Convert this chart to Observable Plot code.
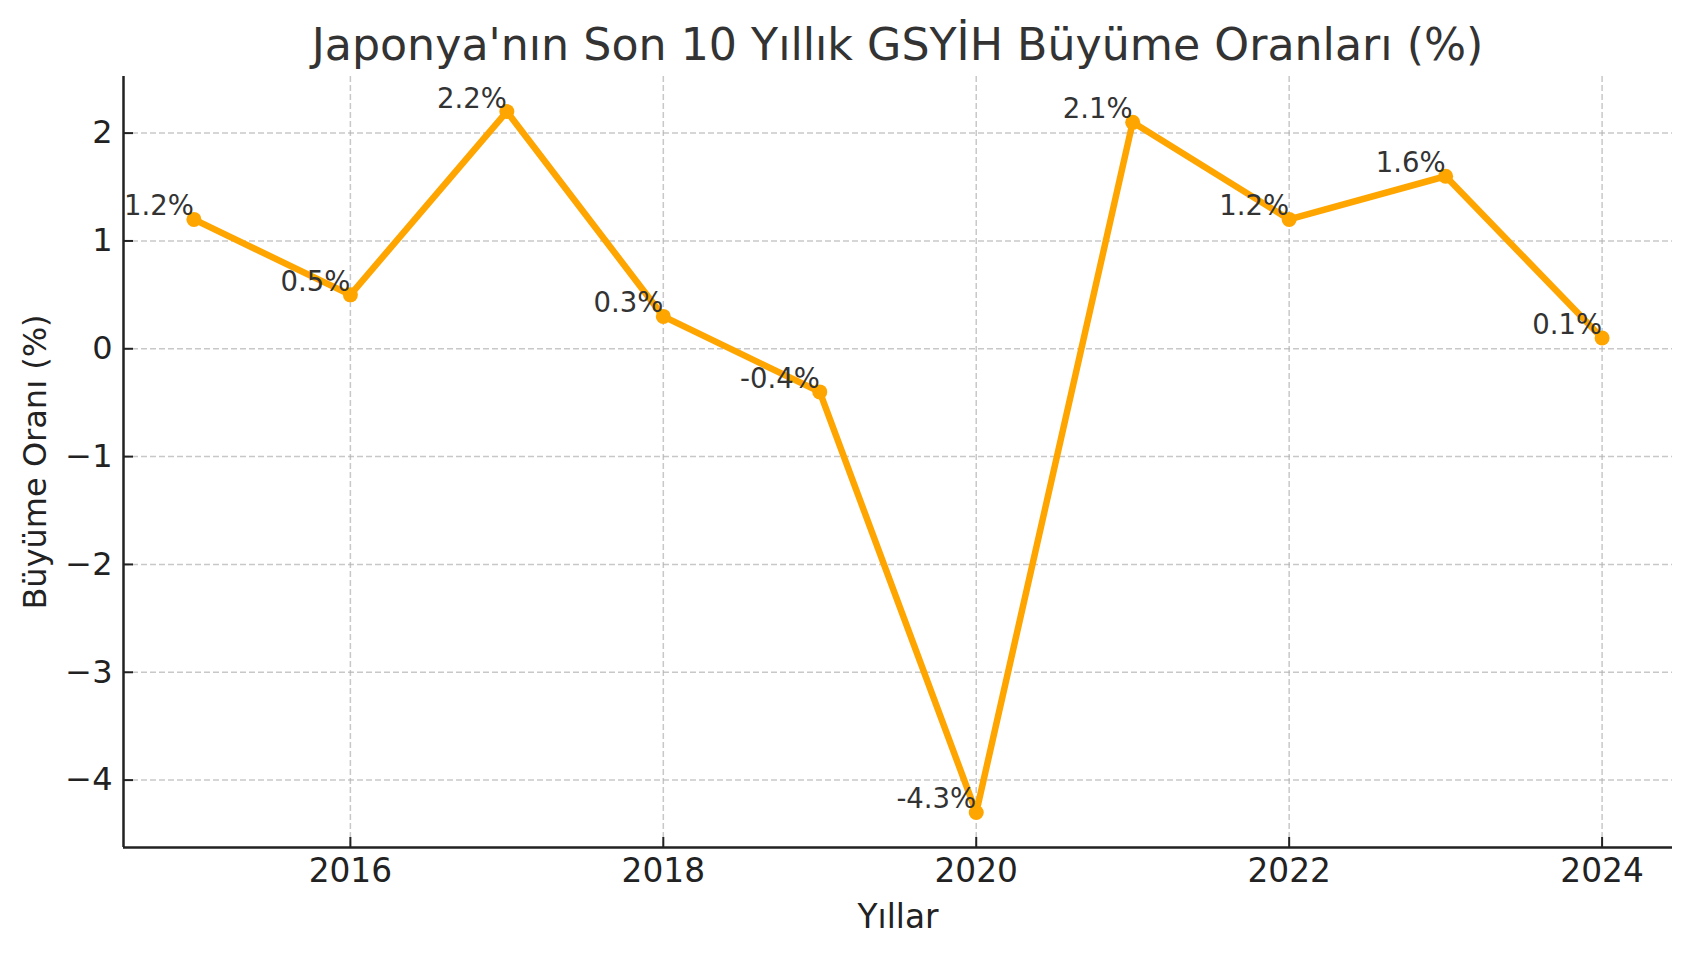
<!DOCTYPE html>
<html>
<head>
<meta charset="utf-8">
<script src="https://cdn.jsdelivr.net/npm/d3@7"></script>
<script src="https://cdn.jsdelivr.net/npm/@observablehq/plot@0.6"></script>
<style>
  html, body { margin: 0; padding: 0; background: #fff; }
  body { width: 1693px; height: 954px; overflow: hidden; font-family: "DejaVu Sans", sans-serif; }
  #title { height: 76px; box-sizing: border-box; padding: 20px 21px 0 123px; line-height: 50px; text-align: center; font-size: 44.3px; color: #333; white-space: nowrap; }
  svg { overflow: visible; display: block; }
</style>
</head>
<body>
<div id="title">Japonya'nın Son 10 Yıllık GSYİH Büyüme Oranları (%)</div>
<div id="chart"></div>
<script>
const years = [2015, 2016, 2017, 2018, 2019, 2020, 2021, 2022, 2023, 2024];
const growth = [1.2, 0.5, 2.2, 0.3, -0.4, -4.3, 2.1, 1.2, 1.6, 0.1];
const xTicks = [2016, 2018, 2020, 2022, 2024];
const yTicks = [-4, -3, -2, -1, 0, 1, 2];
const xLabel = "Yıllar";
const yLabel = "Büyüme Oranı (%)";

const data = years.map((y, i) => ({year: y, value: growth[i]}));
const xDomain = [2014.55, 2024.45];
const yDomain = [-4.625, 2.525];
const minus = v => (v < 0 ? "\u2212" + Math.abs(v) : String(v));

const chart = Plot.plot({
  width: 1693,
  height: 878,
  marginTop: 0,
  marginBottom: 107,
  marginLeft: 123,
  marginRight: 21,
  style: {fontFamily: "DejaVu Sans, sans-serif", background: "#fff", overflow: "visible"},
  x: {type: "linear", domain: xDomain},
  y: {domain: yDomain},
  marks: [
    Plot.gridX(xTicks, {stroke: "#b0b0b0", strokeOpacity: 0.7, strokeWidth: 1.5, strokeDasharray: "6,3"}),
    Plot.gridY(yTicks, {stroke: "#b0b0b0", strokeOpacity: 0.7, strokeWidth: 1.5, strokeDasharray: "6,3"}),
    Plot.axisX(xTicks, {tickSize: -10, tickPadding: 21, tickFormat: d => String(d), fontSize: 32.8, fill: "#222", stroke: "#222", strokeWidth: 2,
      label: xLabel, labelArrow: "none", labelAnchor: "center", labelOffset: 80}),
    Plot.axisY(yTicks, {tickSize: -10, tickPadding: 21, tickFormat: minus, fontSize: 32, fill: "#222", stroke: "#222", strokeWidth: 2,
      label: yLabel, labelArrow: "none", labelAnchor: "center", labelOffset: 100}),
    Plot.ruleX([xDomain[0]], {stroke: "#222", strokeWidth: 2.5}),
    Plot.ruleY([yDomain[0]], {stroke: "#222", strokeWidth: 2.5}),
    Plot.line(data, {x: "year", y: "value", stroke: "#FFA500", strokeWidth: 6.5}),
    Plot.dot(data, {x: "year", y: "value", r: 7.5, fill: "#FFA500"}),
    Plot.text(data, {x: "year", y: "value", text: d => d.value.toFixed(1) + "%", textAnchor: "end", lineAnchor: "bottom", dy: -4, fontSize: 27.5, fill: "#333"})
  ]
});
document.getElementById("chart").appendChild(chart);
</script>
</body>
</html>
